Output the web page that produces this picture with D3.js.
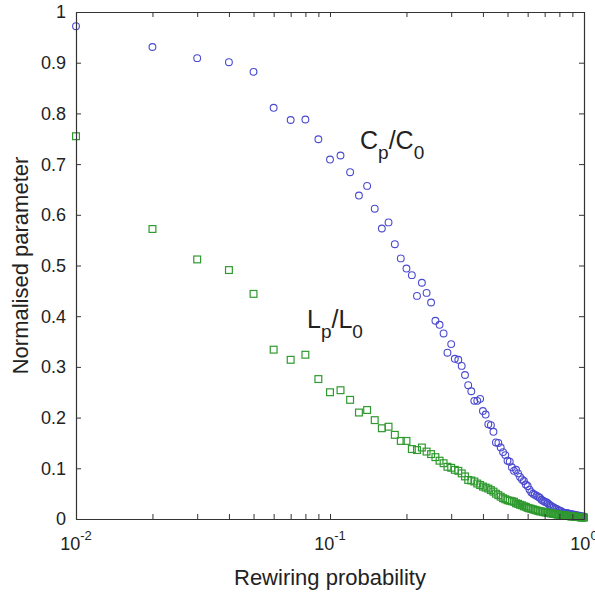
<!DOCTYPE html>
<html>
<head>
<meta charset="utf-8">
<script src="https://cdn.jsdelivr.net/npm/d3@7"></script>
<style>
  body { margin: 0; background: #fff; }
  text { font-family: "Liberation Sans", Arial, sans-serif; fill: #222; }
</style>
</head>
<body>
<svg width="595" height="592"></svg>
<script>
const svg = d3.select("svg");

// rewiring probability p
const rewiring = [
  0.01, 0.02, 0.03, 0.04, 0.05, 0.06, 0.07, 0.08, 0.09, 0.10,
  0.11, 0.12, 0.13, 0.14, 0.15, 0.16, 0.17, 0.18, 0.19, 0.20,
  0.21, 0.22, 0.23, 0.24, 0.25, 0.26, 0.27, 0.28, 0.29, 0.30,
  0.31, 0.32, 0.33, 0.34, 0.35, 0.36, 0.37, 0.38, 0.39, 0.40,
  0.41, 0.42, 0.43, 0.44, 0.45, 0.46, 0.47, 0.48, 0.49, 0.50,
  0.51, 0.52, 0.53, 0.54, 0.55, 0.56, 0.57, 0.58, 0.59, 0.60,
  0.61, 0.62, 0.63, 0.64, 0.65, 0.66, 0.67, 0.68, 0.69, 0.70,
  0.71, 0.72, 0.73, 0.74, 0.75, 0.76, 0.77, 0.78, 0.79, 0.80,
  0.81, 0.82, 0.83, 0.84, 0.85, 0.86, 0.87, 0.88, 0.89, 0.90,
  0.91, 0.92, 0.93, 0.94, 0.95, 0.96, 0.97, 0.98, 0.99, 1.00
];

// C_p / C_0 (clustering)
const clustering = [
  0.972, 0.931, 0.909, 0.901, 0.882, 0.811, 0.787, 0.788, 0.749, 0.709,
  0.717, 0.684, 0.638, 0.657, 0.612, 0.573, 0.585, 0.542, 0.514, 0.494,
  0.481, 0.440, 0.466, 0.446, 0.427, 0.391, 0.383, 0.366, 0.328, 0.345,
  0.316, 0.314, 0.302, 0.284, 0.264, 0.252, 0.233, 0.233, 0.237, 0.213,
  0.206, 0.187, 0.185, 0.172, 0.151, 0.150, 0.141, 0.132, 0.126, 0.115,
  0.113, 0.102, 0.095, 0.097, 0.090, 0.083, 0.078, 0.075, 0.068, 0.065,
  0.058, 0.053, 0.050, 0.048, 0.046, 0.044, 0.042, 0.038, 0.036, 0.034,
  0.033, 0.031, 0.028, 0.026, 0.024, 0.023, 0.021, 0.020, 0.018, 0.017,
  0.016, 0.014, 0.013, 0.012, 0.011, 0.012, 0.010, 0.009, 0.010, 0.008,
  0.009, 0.007, 0.008, 0.006, 0.007, 0.005, 0.006, 0.005, 0.004, 0.005
];

// L_p / L_0 (path length)
const pathLength = [
  0.755, 0.572, 0.512, 0.491, 0.444, 0.334, 0.314, 0.324, 0.276, 0.250,
  0.254, 0.235, 0.210, 0.215, 0.195, 0.179, 0.182, 0.166, 0.154, 0.154,
  0.138, 0.136, 0.141, 0.133, 0.128, 0.122, 0.115, 0.110, 0.103, 0.101,
  0.097, 0.095, 0.090, 0.084, 0.077, 0.076, 0.074, 0.070, 0.067, 0.064,
  0.062, 0.060, 0.057, 0.054, 0.050, 0.047, 0.044, 0.041, 0.039, 0.037,
  0.036, 0.035, 0.034, 0.031, 0.030, 0.028, 0.027, 0.025, 0.024, 0.022,
  0.021, 0.020, 0.019, 0.018, 0.017, 0.016, 0.015, 0.015, 0.014, 0.013,
  0.013, 0.012, 0.012, 0.011, 0.011, 0.010, 0.010, 0.009, 0.009, 0.008,
  0.008, 0.008, 0.007, 0.007, 0.007, 0.006, 0.006, 0.006, 0.005, 0.005,
  0.005, 0.005, 0.004, 0.004, 0.004, 0.004, 0.003, 0.003, 0.003, 0.003
];

const xTicks = [0.01, 0.02, 0.03, 0.04, 0.05, 0.06, 0.07, 0.08, 0.09,
                0.1, 0.2, 0.3, 0.4, 0.5, 0.6, 0.7, 0.8, 0.9, 1];
const xLabelTicks = [0.01, 0.1, 1];
const xLabelExp = ["-2", "-1", "0"];
const yTicks = [0, 0.1, 0.2, 0.3, 0.4, 0.5, 0.6, 0.7, 0.8, 0.9, 1];
const yTickLabels = ["0", "0.1", "0.2", "0.3", "0.4", "0.5", "0.6", "0.7", "0.8", "0.9", "1"];

const plotLeft = 76, plotRight = 584, plotTop = 12, plotBottom = 519;

const x = d3.scaleLog().domain([0.01, 1]).range([plotLeft, plotRight]);
const y = d3.scaleLinear().domain([0, 1]).range([plotBottom, plotTop]);

const points = rewiring.map((p, i) => ({ p, c: clustering[i], l: pathLength[i] }));

// markers
svg.append("g")
  .selectAll("circle")
  .data(points)
  .enter()
  .append("circle")
  .attr("cx", (d) => x(d.p))
  .attr("cy", (d) => y(d.c))
  .attr("r", 3.4)
  .attr("fill", "none")
  .attr("stroke", "#4a4ad0")
  .attr("stroke-width", 1.1);

svg.append("g")
  .selectAll("rect")
  .data(points)
  .enter()
  .append("rect")
  .attr("x", (d) => x(d.p) - 3.4)
  .attr("y", (d) => y(d.l) - 3.4)
  .attr("width", 6.8)
  .attr("height", 6.8)
  .attr("fill", "none")
  .attr("stroke", "#2f9a2f")
  .attr("stroke-width", 1.2);

// axes (box with inward ticks)
const axisStyle = (g) => {
  g.selectAll("path, line").attr("stroke", "#333");
  g.select(".domain").attr("stroke-width", 1.2);
};

svg.append("g")
  .attr("transform", `translate(0,${plotBottom})`)
  .call(d3.axisBottom(x).tickValues(xTicks).tickSize(-5).tickSizeOuter(0).tickFormat(""))
  .call(axisStyle);
svg.append("g")
  .attr("transform", `translate(0,${plotTop})`)
  .call(d3.axisTop(x).tickValues(xTicks).tickSize(-5).tickSizeOuter(0).tickFormat(""))
  .call(axisStyle);
svg.append("g")
  .attr("transform", `translate(${plotLeft},0)`)
  .call(d3.axisLeft(y).tickValues(yTicks).tickSize(-5).tickSizeOuter(0).tickFormat(""))
  .call(axisStyle);
svg.append("g")
  .attr("transform", `translate(${plotRight},0)`)
  .call(d3.axisRight(y).tickValues(yTicks).tickSize(-5).tickSizeOuter(0).tickFormat(""))
  .call(axisStyle);

// y tick labels
svg.append("g")
  .selectAll("text")
  .data(yTicks)
  .enter()
  .append("text")
  .attr("x", plotLeft - 10)
  .attr("y", (d) => y(d))
  .attr("dy", "0.36em")
  .attr("text-anchor", "end")
  .attr("font-size", 18)
  .text((d, i) => yTickLabels[i]);

// x tick labels 10^k
const xl = svg.append("g")
  .selectAll("text")
  .data(xLabelTicks)
  .enter()
  .append("text")
  .attr("x", (d) => x(d))
  .attr("y", 550)
  .attr("text-anchor", "middle")
  .attr("font-size", 18);
xl.append("tspan").text("10");
xl.append("tspan")
  .attr("dy", -10)
  .attr("font-size", 13)
  .text((d, i) => xLabelExp[i]);

// axis titles
svg.append("text")
  .attr("x", (plotLeft + plotRight) / 2)
  .attr("y", 585)
  .attr("text-anchor", "middle")
  .attr("font-size", 22)
  .text("Rewiring probability");

svg.append("text")
  .attr("transform", `translate(28,${(plotTop + plotBottom) / 2}) rotate(-90)`)
  .attr("text-anchor", "middle")
  .attr("font-size", 22)
  .text("Normalised parameter");

// curve annotations
const annotate = (px, py, a) => {
  const t = svg.append("text").attr("x", px).attr("y", py).attr("font-size", 25);
  t.append("tspan").text(a);
  t.append("tspan").attr("dy", 10).attr("font-size", 19).text("p");
  t.append("tspan").attr("dy", -10).text("/" + a);
  t.append("tspan").attr("dy", 10).attr("font-size", 19).text("0");
};
annotate(360, 149, "C");
annotate(307, 328, "L");
</script>
</body>
</html>
